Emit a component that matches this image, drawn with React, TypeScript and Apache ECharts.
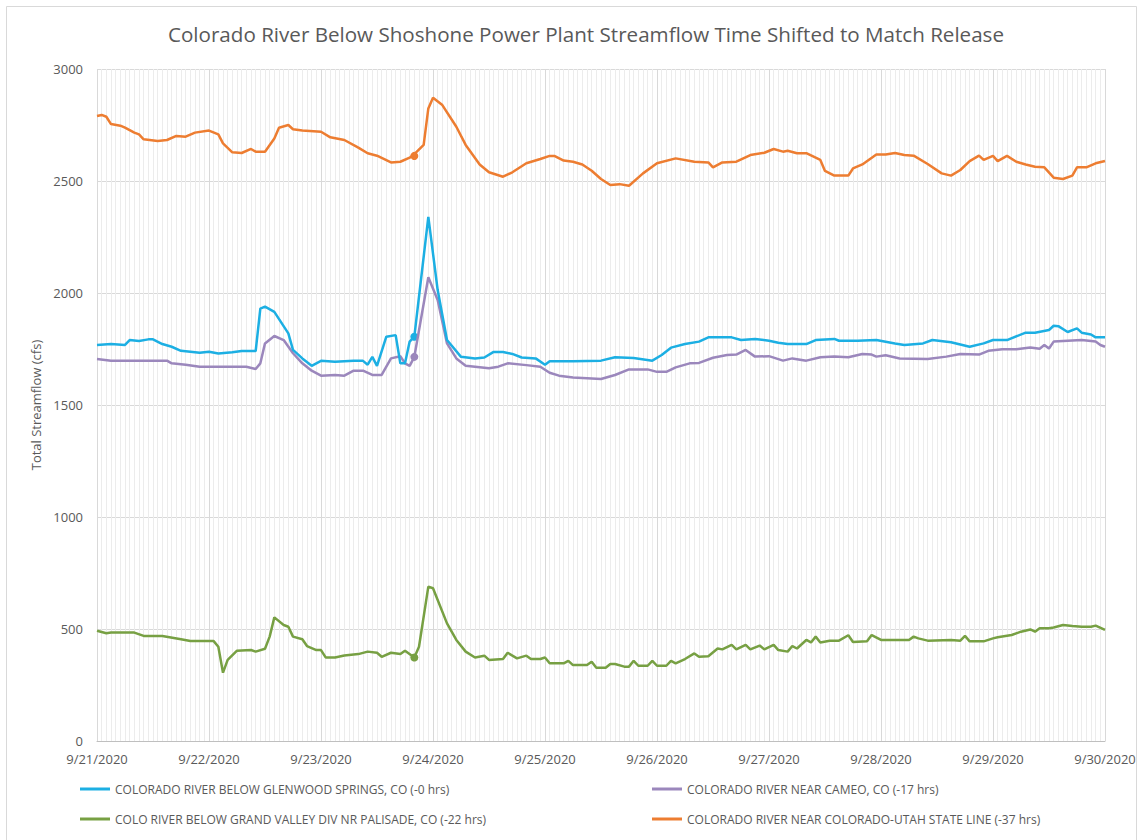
import React, { useEffect, useRef } from "react";
import * as echarts from "echarts";

const titleText = "Colorado River Below Shoshone Power Plant Streamflow Time Shifted to Match Release";
const yAxisName = "Total Streamflow (cfs)";
const dateLabels = ["9/21/2020", "9/22/2020", "9/23/2020", "9/24/2020", "9/25/2020", "9/26/2020", "9/27/2020", "9/28/2020", "9/29/2020", "9/30/2020"];
const yTicks = [0, 500, 1000, 1500, 2000, 2500, 3000];

const seriesNames = [
  "COLORADO RIVER BELOW GLENWOOD SPRINGS, CO (-0 hrs)",
  "COLORADO RIVER NEAR CAMEO, CO (-17 hrs)",
  "COLO RIVER BELOW GRAND VALLEY DIV NR PALISADE, CO (-22 hrs)",
  "COLORADO RIVER NEAR COLORADO-UTAH STATE LINE (-37 hrs)",
];
const seriesColors = ["#1CAFE3", "#9B87BC", "#77A043", "#ED7D31"];

// hours since 9/21/2020 00:00 and streamflow (cfs)
const glenwoodHours = [0, 3, 6, 7, 9, 11, 12, 14, 16, 18, 20, 22, 24, 26, 29, 31, 34, 35, 36, 38, 41, 42, 44, 46, 48, 51, 55, 57, 58, 59, 60, 62, 64, 65, 66, 67, 68, 71, 73, 75, 78, 81, 83, 85, 87, 89, 91, 94, 96, 97, 102, 108, 111, 115, 119, 121, 123, 126, 129, 131, 136, 138, 141, 144, 146, 148, 152, 154, 158, 159, 163, 167, 171, 173, 177, 179, 183, 187, 190, 192, 195, 199, 201, 204, 205, 206, 208, 210, 211, 213, 214, 216];
const glenwoodValues = [1768, 1772, 1768, 1790, 1786, 1793, 1793, 1772, 1760, 1742, 1738, 1733, 1738, 1730, 1735, 1741, 1741, 1930, 1939, 1916, 1820, 1746, 1708, 1675, 1697, 1693, 1697, 1697, 1680, 1715, 1675, 1805, 1812, 1686, 1686, 1783, 1805, 2340, 2013, 1790, 1715, 1708, 1712, 1737, 1737, 1728, 1712, 1708, 1680, 1695, 1695, 1698, 1713, 1710, 1698, 1723, 1756, 1772, 1783, 1802, 1802, 1790, 1795, 1787, 1778, 1772, 1772, 1790, 1795, 1787, 1787, 1790, 1775, 1768, 1775, 1790, 1780, 1760, 1775, 1790, 1790, 1823, 1823, 1835, 1854, 1852, 1826, 1842, 1823, 1815, 1802, 1802];

const cameoHours = [0, 3, 15, 16, 19, 22, 32, 34, 35, 36, 38, 40, 42, 44, 46, 48, 51, 53, 55, 57, 59, 61, 63, 65, 66, 67, 68, 71, 73, 75, 77, 79, 84, 86, 88, 92, 95, 97, 99, 102, 108, 111, 114, 118, 120, 122, 124, 127, 129, 132, 135, 137, 139, 141, 144, 147, 149, 152, 155, 158, 161, 164, 166, 167, 169, 172, 178, 182, 185, 189, 191, 194, 197, 200, 202, 203, 204, 205, 208, 211, 214, 215, 216];
const cameoValues = [1705, 1698, 1698, 1686, 1680, 1671, 1671, 1661, 1686, 1775, 1808, 1790, 1731, 1686, 1653, 1631, 1634, 1631, 1653, 1653, 1634, 1634, 1708, 1718, 1686, 1675, 1715, 2070, 1969, 1775, 1708, 1675, 1664, 1671, 1686, 1678, 1671, 1644, 1631, 1623, 1616, 1634, 1659, 1659, 1648, 1648, 1668, 1686, 1688, 1711, 1723, 1725, 1746, 1716, 1718, 1698, 1708, 1698, 1713, 1716, 1713, 1728, 1725, 1716, 1722, 1708, 1705, 1716, 1728, 1725, 1742, 1749, 1749, 1757, 1751, 1768, 1752, 1783, 1787, 1790, 1783, 1768, 1760];

const palisadeHours = [0, 2, 3, 8, 10, 14, 18, 20, 25, 26, 27, 28, 30, 33, 34, 36, 37, 38, 40, 41, 42, 44, 45, 47, 48, 49, 51, 53, 56, 58, 60, 61, 63, 65, 66, 68, 69, 71, 72, 75, 77, 79, 81, 83, 84, 87, 88, 90, 92, 93, 95, 96, 97, 100, 101, 102, 105, 106, 107, 109, 110, 111, 113, 114, 115, 116, 118, 119, 120, 122, 123, 124, 126, 128, 129, 131, 133, 134, 136, 137, 139, 140, 142, 143, 145, 146, 148, 149, 150, 152, 153, 154, 155, 157, 159, 161, 162, 165, 166, 168, 174, 175, 176, 178, 183, 185, 186, 187, 190, 192, 193, 196, 198, 200, 201, 202, 204, 205, 207, 209, 211, 213, 214, 216];
const palisadeValues = [492, 481, 484, 484, 469, 469, 454, 446, 446, 421, 305, 362, 403, 406, 399, 412, 466, 552, 518, 510, 466, 454, 424, 406, 406, 373, 373, 382, 388, 399, 394, 376, 394, 388, 403, 373, 421, 689, 682, 525, 451, 399, 373, 381, 362, 366, 394, 369, 381, 366, 366, 373, 347, 347, 358, 339, 339, 354, 327, 327, 344, 344, 332, 332, 358, 336, 336, 358, 336, 336, 358, 347, 366, 391, 376, 378, 413, 409, 429, 409, 429, 409, 426, 409, 429, 406, 399, 424, 413, 451, 440, 466, 440, 448, 448, 472, 442, 445, 473, 451, 451, 466, 458, 448, 451, 448, 469, 445, 445, 458, 463, 473, 488, 498, 488, 503, 503, 507, 518, 513, 510, 510, 515, 496];

const stateLineHours = [0, 1, 2, 3, 5, 6, 8, 9, 10, 13, 15, 17, 19, 21, 24, 26, 27, 29, 31, 33, 34, 36, 38, 39, 41, 42, 44, 48, 50, 53, 56, 58, 60, 63, 65, 67, 68, 70, 71, 72, 74, 77, 79, 82, 84, 87, 89, 92, 95, 97, 98, 100, 102, 104, 106, 108, 110, 112, 114, 117, 120, 124, 128, 131, 132, 134, 137, 140, 143, 145, 147, 148, 150, 152, 155, 156, 158, 161, 162, 164, 167, 169, 171, 173, 175, 178, 181, 183, 185, 187, 189, 190, 192, 193, 195, 197, 199, 201, 203, 205, 207, 209, 210, 212, 214, 216];
const stateLineValues = [2790, 2795, 2787, 2754, 2747, 2738, 2716, 2708, 2686, 2679, 2683, 2701, 2698, 2716, 2725, 2708, 2668, 2628, 2625, 2643, 2631, 2631, 2690, 2738, 2750, 2731, 2725, 2720, 2695, 2683, 2649, 2624, 2613, 2583, 2586, 2604, 2620, 2661, 2824, 2872, 2839, 2742, 2661, 2574, 2539, 2519, 2539, 2579, 2598, 2612, 2612, 2591, 2586, 2574, 2546, 2509, 2482, 2486, 2479, 2534, 2579, 2601, 2586, 2583, 2561, 2583, 2586, 2616, 2626, 2643, 2631, 2635, 2624, 2624, 2594, 2545, 2524, 2524, 2556, 2574, 2618, 2618, 2625, 2616, 2613, 2576, 2534, 2524, 2549, 2589, 2613, 2594, 2612, 2589, 2612, 2586, 2574, 2564, 2561, 2515, 2509, 2524, 2561, 2561, 2579, 2589];

const markerHour = 68;
const markerValues = [1805, 1715, 373, 2612];

const seriesHours = [glenwoodHours, cameoHours, palisadeHours, stateLineHours];
const seriesValues = [glenwoodValues, cameoValues, palisadeValues, stateLineValues];

const FONT = "'Open Sans', 'Liberation Sans', sans-serif";
const TEXT = "#595959";

export default function App() {
  const ref = useRef<HTMLDivElement>(null);
  useEffect(() => {
    document.body.style.margin = "0";
    if (!ref.current) return;
    const chart = echarts.init(ref.current, undefined, { renderer: "svg" });
    const series = seriesNames.map((name, i) => ({
      name,
      type: "line",
      data: seriesHours[i].map((h, j) => [h, seriesValues[i][j]]),
      showSymbol: false,
      symbol: "none",
      lineStyle: { width: 2.5, color: seriesColors[i] },
      itemStyle: { color: seriesColors[i] },
      z: 10 - i,
      markPoint: {
        symbol: "circle",
        symbolSize: 8,
        label: { show: false },
        itemStyle: { color: seriesColors[i] },
        data: [{ coord: [markerHour, markerValues[i]] }],
      },
    }));
    const legendCommon = {
      orient: "vertical",
      icon: "rect",
      itemWidth: 30,
      itemHeight: 3,
      itemGap: 18,
      textStyle: { fontFamily: FONT, fontSize: 12, color: TEXT },
    };
    chart.setOption({
      animation: false,
      backgroundColor: "#fff",
      textStyle: { fontFamily: FONT },
      title: {
        text: titleText,
        left: 163,
        top: 18,
        textStyle: { fontFamily: FONT, fontSize: 20.6, fontWeight: "normal", color: TEXT },
      },
      graphic: [
        {
          type: "rect",
          shape: { x: 6.5, y: 6.5, width: 1130, height: 840 },
          style: { fill: "none", stroke: "#d9d9d9", lineWidth: 1 },
          silent: true,
        },
      ],
      legend: [
        { ...legendCommon, left: 75, top: 778, data: [seriesNames[0], seriesNames[2]] },
        { ...legendCommon, left: 647, top: 778, data: [seriesNames[1], seriesNames[3]] },
      ],
      grid: { left: 97, right: 38, top: 69, bottom: 99, containLabel: false },
      xAxis: {
        type: "value",
        min: 0,
        max: 216,
        interval: 24,
        axisLine: { show: true, lineStyle: { color: "#bfbfbf" } },
        axisTick: { show: false },
        axisLabel: {
          color: TEXT,
          fontFamily: FONT,
          fontSize: 13,
          margin: 11,
          formatter: (v: number) => dateLabels[Math.round(v / 24)] ?? "",
        },
        splitLine: { show: true, lineStyle: { color: "#d9d9d9" } },
        minorTick: { show: false, splitNumber: 24 },
        minorSplitLine: { show: true, lineStyle: { color: "#ececec", width: 1 } },
      },
      yAxis: {
        type: "value",
        min: 0,
        max: 3000,
        interval: 500,
        name: yAxisName,
        nameLocation: "middle",
        nameGap: 50,
        nameTextStyle: { color: TEXT, fontFamily: FONT, fontSize: 13 },
        axisLine: { show: false },
        axisTick: { show: false },
        axisLabel: {
          color: TEXT,
          fontFamily: FONT,
          fontSize: 13,
          margin: 14,
          formatter: (v: number) => (yTicks.includes(v) ? String(v) : ""),
        },
        splitLine: { show: true, lineStyle: { color: "#d9d9d9" } },
      },
      series,
    });
    return () => chart.dispose();
  }, []);
  return <div ref={ref} style={{ width: 1143, height: 840 }} />;
}
